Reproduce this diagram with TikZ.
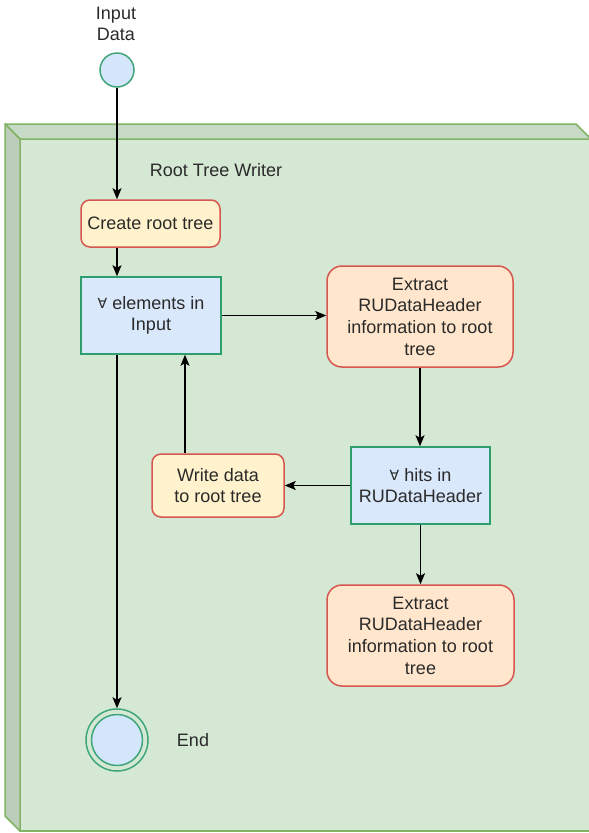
\documentclass[tikz,border=0pt]{standalone}
\usepackage{fontspec}
\setmainfont{Liberation Sans}
\newfontfamily\symfont{DejaVu Sans}
\usetikzlibrary{arrows.meta,calc}

\definecolor{boxgreen}{HTML}{D5E8D4}
\definecolor{boxgreentop}{HTML}{C6DAC5}
\definecolor{boxgreenside}{HTML}{BCCDBB}
\definecolor{boxgreenline}{HTML}{82B366}
\definecolor{loopfill}{HTML}{DAE8FC}
\definecolor{loopline}{HTML}{2E9E6E}
\definecolor{taskfill}{HTML}{FFF2CC}
\definecolor{extractfill}{HTML}{FFE6CC}
\definecolor{taskline}{HTML}{D6574F}
\definecolor{statefill}{HTML}{D4E6FA}
\definecolor{stateline}{HTML}{3FA57A}
\definecolor{txt}{HTML}{2A2A2A}

\newcommand{\forallsym}{{\symfont\fontsize{14}{16}\selectfont\raisebox{0.5pt}{∀}}}

\tikzset{
  lbl/.style={font=\fontsize{18}{21.6}\selectfont, text=txt, align=center, inner sep=0pt},
  loopbox/.style={lbl, rectangle, draw=loopline, fill=loopfill, line width=1.5pt},
  taskbox/.style={lbl, rectangle, rounded corners=9pt, draw=taskline, fill=taskfill, line width=1.5pt},
  extractbox/.style={lbl, rectangle, rounded corners=15pt, draw=taskline, fill=extractfill, line width=1.5pt},
  statecirc/.style={circle, draw=stateline, fill=statefill, line width=1.5pt, inner sep=0pt},
  flow/.style={draw=black, line width=1.5pt, -{Stealth[length=11pt,width=9pt,inset=2.5pt]}}
}

\begin{document}
\begin{tikzpicture}[x=1pt,y=-1pt]
  \useasboundingbox (0,0) rectangle (589,833);
  \fill[white] (0,0) rectangle (589,833);
  \clip (0,0) rectangle (589,833);

  % container drawn as a 3D block
  \draw[boxgreenline, fill=boxgreen, line width=1.5pt] (20,139) rectangle (600,831);
  \draw[boxgreenline, fill=boxgreentop, line width=1.5pt, line join=round]
    (5,124) -- (576,124) -- (591,139) -- (20,139) -- cycle;
  \draw[boxgreenline, fill=boxgreenside, line width=1.5pt, line join=round]
    (5,124) -- (20,139) -- (20,831) -- (5,816) -- cycle;
  \node[lbl] (title) at (216,170) {Root Tree Writer};

  % start state
  \node[lbl] (inlbl) at (116,24) {Input\\Data};
  \node[statecirc, minimum size=34pt] (start) at (117,70) {};

  % activities
  \node[taskbox, minimum width=139pt, minimum height=47pt] (create) at (150.5,223.5) {Create root tree};
  \node[loopbox, minimum width=140pt, minimum height=77pt] (elems) at (151,315.5) {\forallsym{} elements in\\Input};
  \node[extractbox, minimum width=186pt, minimum height=101pt] (extractA) at (420,316.5) {Extract\\RUDataHeader\\information to root\\tree};
  \node[loopbox, minimum width=139pt, minimum height=77pt] (hits) at (420.5,485.5) {\forallsym{} hits in\\RUDataHeader};
  \node[taskbox, minimum width=132pt, minimum height=63pt] (write) at (218,485.5) {Write data\\to root tree};
  \node[extractbox, minimum width=187pt, minimum height=101pt] (extractB) at (420.5,635.5) {Extract\\RUDataHeader\\information to root\\tree};

  % end state
  \node[statecirc, fill=none, minimum size=62pt] (endouter) at (117,740) {};
  \node[statecirc, minimum size=51pt] (end) at (117,740) {};
  \node[lbl] (endlbl) at (193,740) {End};

  % connectors
  \draw[flow] (start.south) -- (start.south |- create.north);
  \draw[flow] (start |- create.south) -- (start |- elems.north);
  \draw[flow] (elems.east) -- (extractA.west |- elems.east);
  \draw[flow] (extractA.south) -- (extractA.south |- hits.north);
  \draw[flow] (hits.west) -- (write.east |- hits.west);
  \draw[flow] ([xshift=-33pt]write.north) -- ([xshift=-33pt]write.north |- elems.south);
  \draw[flow] (start |- elems.south) -- (endouter.north);
  \draw[flow] (hits.south) -- (hits.south |- extractB.north);
\end{tikzpicture}
\end{document}
